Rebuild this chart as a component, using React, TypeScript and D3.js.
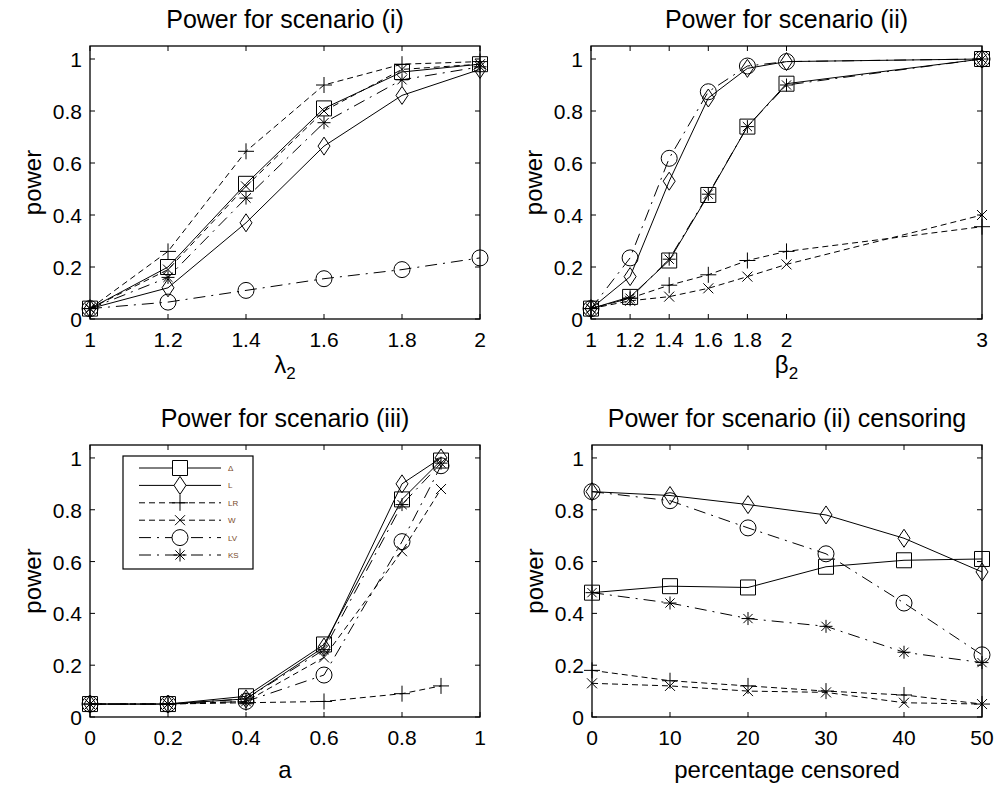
import { useRef, useEffect } from 'react';
import * as d3 from 'd3';

const METHODS = ['Δ', 'L', 'LR', 'W', 'LV', 'KS'];
const MARKERS = ['square', 'diamond', 'plus', 'x', 'circle', 'asterisk'];
const STYLES = ['solid', 'solid', 'dash', 'dash', 'dashdot', 'dashdot'];

const Y_TICKS = [0, 0.2, 0.4, 0.6, 0.8, 1];

// scenario (i)
const X_I = [1, 1.2, 1.4, 1.6, 1.8, 2];
const I_DELTA = [0.04, 0.2, 0.52, 0.81, 0.95, 0.98];
const I_L = [0.04, 0.12, 0.37, 0.665, 0.86, 0.96];
const I_LR = [0.04, 0.26, 0.645, 0.9, 0.98, 0.99];
const I_W = [0.04, 0.19, 0.51, 0.8, 0.96, 0.98];
const I_LV = [0.04, 0.065, 0.11, 0.155, 0.19, 0.235];
const I_KS = [0.04, 0.16, 0.465, 0.755, 0.92, 0.97];

// scenario (ii)
const X_II = [1, 1.2, 1.4, 1.6, 1.8, 2, 3];
const II_DELTA = [0.04, 0.085, 0.225, 0.477, 0.74, 0.905, 1.0];
const II_L = [0.04, 0.163, 0.53, 0.85, 0.964, 0.99, 1.0];
const II_LR = [0.04, 0.08, 0.13, 0.17, 0.225, 0.26, 0.355];
const II_W = [0.04, 0.07, 0.086, 0.118, 0.163, 0.21, 0.4];
const II_LV = [0.04, 0.235, 0.618, 0.874, 0.973, 0.99, 1.0];
const II_KS = [0.04, 0.08, 0.23, 0.48, 0.74, 0.9, 1.0];

// scenario (iii)
const X_III = [0, 0.2, 0.4, 0.6, 0.8, 0.9];
const III_DELTA = [0.05, 0.05, 0.08, 0.28, 0.84, 0.99];
const III_L = [0.05, 0.05, 0.07, 0.27, 0.9, 1.0];
const III_LR = [0.05, 0.05, 0.055, 0.06, 0.09, 0.12];
const III_W = [0.05, 0.05, 0.06, 0.23, 0.64, 0.88];
const III_LV = [0.05, 0.05, 0.06, 0.162, 0.677, 0.97];
const III_KS = [0.05, 0.05, 0.07, 0.26, 0.82, 0.98];

// scenario (ii) with censoring
const X_CENS = [0, 10, 20, 30, 40, 50];
const C_DELTA = [0.48, 0.505, 0.5, 0.58, 0.605, 0.61];
const C_L = [0.87, 0.855, 0.82, 0.78, 0.69, 0.56];
const C_LR = [0.18, 0.14, 0.12, 0.1, 0.085, 0.05];
const C_W = [0.13, 0.12, 0.1, 0.095, 0.055, 0.05];
const C_LV = [0.87, 0.835, 0.73, 0.63, 0.44, 0.24];
const C_KS = [0.48, 0.44, 0.38, 0.35, 0.25, 0.21];

const FONT = '"Liberation Sans", Arial, Helvetica, sans-serif';

const PANELS = [
  {
    title: 'Power for scenario (i)', xlab: 'λ', xsub: '2',
    box: [90, 46, 480, 319], xDomain: [1, 2], xTicks: X_I,
    x: X_I, series: [I_DELTA, I_L, I_LR, I_W, I_LV, I_KS], legend: false,
  },
  {
    title: 'Power for scenario (ii)', xlab: 'β', xsub: '2',
    box: [591, 46, 982, 319], xDomain: [1, 3], xTicks: X_II,
    x: X_II, series: [II_DELTA, II_L, II_LR, II_W, II_LV, II_KS], legend: false,
  },
  {
    title: 'Power for scenario (iii)', xlab: 'a', xsub: '',
    box: [90, 445, 480, 717], xDomain: [0, 1], xTicks: [0, 0.2, 0.4, 0.6, 0.8, 1],
    x: X_III, series: [III_DELTA, III_L, III_LR, III_W, III_LV, III_KS], legend: true,
  },
  {
    title: 'Power for scenario (ii) censoring', xlab: 'percentage censored', xsub: '',
    box: [592, 445, 982, 717], xDomain: [0, 50], xTicks: X_CENS,
    x: X_CENS, series: [C_DELTA, C_L, C_LR, C_W, C_LV, C_KS], legend: false,
  },
];

const dashOf = (s) => (s === 'dash' ? '6,4' : s === 'dashdot' ? '12,6,2,6' : null);

function markerPath(type) {
  switch (type) {
    case 'square': return 'M-7.5,-7.5h15v15h-15Z';
    case 'diamond': return 'M0,-9L6,0L0,9L-6,0Z';
    case 'plus': return 'M-8,0H8M0,-8V8';
    case 'x': return 'M-5,-5L5,5M-5,5L5,-5';
    case 'circle': return 'M8,0A8,8 0 1,1 -8,0A8,8 0 1,1 8,0Z';
    default: return 'M-6.5,0H6.5M0,-6.5V6.5M-4.6,-4.6L4.6,4.6M-4.6,4.6L4.6,-4.6';
  }
}

function drawPanel(svg, p) {
  const [x0, y0, x1, y1] = p.box;
  const x = d3.scaleLinear().domain(p.xDomain).range([x0, x1]);
  const y = d3.scaleLinear().domain([0, 1.05]).range([y1, y0]);
  const g = svg.append('g');

  g.append('rect')
    .attr('x', x0).attr('y', y0).attr('width', x1 - x0).attr('height', y1 - y0)
    .attr('fill', '#fff').attr('stroke', '#000').attr('stroke-width', 1.3);

  // inward ticks on all four sides
  p.xTicks.forEach(t => {
    g.append('line').attr('x1', x(t)).attr('x2', x(t)).attr('y1', y1).attr('y2', y1 - 5)
      .attr('stroke', '#000');
    g.append('line').attr('x1', x(t)).attr('x2', x(t)).attr('y1', y0).attr('y2', y0 + 5)
      .attr('stroke', '#000');
    g.append('text').attr('x', x(t)).attr('y', y1 + 28)
      .attr('text-anchor', 'middle').style('font-size', '21px').text(String(t));
  });
  Y_TICKS.forEach(t => {
    g.append('line').attr('x1', x0).attr('x2', x0 + 5).attr('y1', y(t)).attr('y2', y(t))
      .attr('stroke', '#000');
    g.append('line').attr('x1', x1).attr('x2', x1 - 5).attr('y1', y(t)).attr('y2', y(t))
      .attr('stroke', '#000');
    g.append('text').attr('x', x0 - 8).attr('y', y(t) + 8)
      .attr('text-anchor', 'end').style('font-size', '21px').text(String(t));
  });

  // title and axis labels
  g.append('text').attr('x', (x0 + x1) / 2).attr('y', y0 - 18)
    .attr('text-anchor', 'middle').style('font-size', '25px').text(p.title);

  const xl = g.append('text').attr('x', (x0 + x1) / 2).attr('y', y1 + (p.xsub ? 54 : 61))
    .attr('text-anchor', 'middle').style('font-size', '24px');
  xl.append('tspan').text(p.xlab);
  if (p.xsub) xl.append('tspan').attr('dy', 6).style('font-size', '17px').text(p.xsub);

  g.append('text')
    .attr('transform', `translate(${x0 - 49},${(y0 + y1) / 2}) rotate(-90)`)
    .attr('text-anchor', 'middle').style('font-size', '24px').text('power');

  // series
  const line = d3.line().x(d => x(d[0])).y(d => y(d[1]));
  p.series.forEach((vals, i) => {
    const pts = p.x.map((xv, j) => [xv, vals[j]]);
    g.append('path').attr('d', line(pts))
      .attr('fill', 'none').attr('stroke', '#000').attr('stroke-width', 1)
      .attr('stroke-dasharray', dashOf(STYLES[i]));
    g.selectAll(null).data(pts).enter().append('path')
      .attr('transform', d => `translate(${x(d[0])},${y(d[1])})`)
      .attr('d', markerPath(MARKERS[i]))
      .attr('fill', 'none').attr('stroke', '#000').attr('stroke-width', 1);
  });

  if (p.legend) {
    const lx = x0 + 33, ly = y0 + 11, lw = 130, lh = 113;
    const lg = g.append('g');
    lg.append('rect').attr('x', lx).attr('y', ly).attr('width', lw).attr('height', lh)
      .attr('fill', '#fff').attr('stroke', '#000').attr('stroke-width', 1.2);
    METHODS.forEach((m, i) => {
      const ry = ly + 12 + i * 17.4;
      lg.append('line').attr('x1', lx + 16).attr('x2', lx + 98).attr('y1', ry).attr('y2', ry)
        .attr('stroke', '#000').attr('stroke-dasharray', dashOf(STYLES[i]));
      lg.append('path').attr('transform', `translate(${lx + 57},${ry})`)
        .attr('d', markerPath(MARKERS[i]))
        .attr('fill', '#fff').attr('stroke', '#000');
      lg.append('text').attr('x', lx + 105).attr('y', ry + 3)
        .style('font-size', '8px').attr('fill', '#7a4a2a').text(m);
    });
  }
}

export default function App() {
  const ref = useRef(null);

  useEffect(() => {
    document.body.style.margin = '0';
    const el = ref.current;
    el.innerHTML = '';
    const svg = d3.select(el).append('svg')
      .attr('width', 996).attr('height', 787)
      .style('display', 'block').style('background', '#fff')
      .style('font-family', FONT);
    PANELS.forEach(p => drawPanel(svg, p));
  }, []);

  return <div ref={ref} />;
}
